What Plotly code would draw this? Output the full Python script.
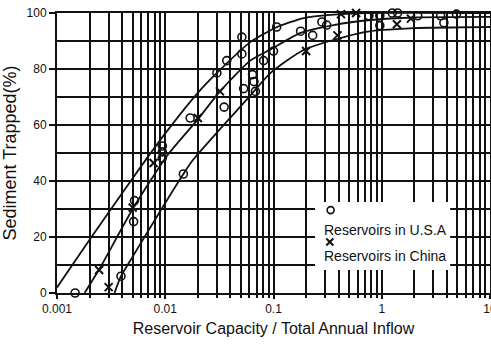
import plotly.graph_objects as go

# Reservoir capacity / annual inflow ratio and trap efficiency (%)
usa_x = [0.00147, 0.0039, 0.0051, 0.0052, 0.0094, 0.0094, 0.0094, 0.0147, 0.017,
         0.030, 0.035, 0.037, 0.051, 0.051, 0.053, 0.064, 0.066, 0.068, 0.081,
         0.100, 0.107, 0.178, 0.23, 0.28, 0.31, 0.76, 0.96, 0.96, 1.25, 1.4,
         2.15, 3.5, 3.75, 4.9]
usa_y = [0, 6, 25.5, 33, 52.5, 50.4, 48.2, 42.5, 62.5,
         78.6, 66.4, 83, 85.4, 91.4, 73, 78, 75.5, 72, 83,
         86.4, 95, 93.5, 92, 96.8, 95.7, 99, 99, 95.5, 100, 100,
         99, 99, 96.5, 99.6]

china_x = [0.00245, 0.0030, 0.005, 0.0078, 0.020, 0.032, 0.20, 0.39, 0.42, 0.58, 1.38, 1.86]
china_y = [8.2, 2.1, 30.5, 46.4, 62.5, 72, 86.4, 92, 99.6, 100, 96, 98]

# Envelope and median trap-efficiency curves
upper_x = [0.001, 0.002, 0.005, 0.01, 0.02, 0.03, 0.061, 0.108, 0.19, 0.42, 0.7, 10]
upper_y = [2, 19, 41, 57, 71.5, 78.6, 89.6, 95, 98.2, 99.6, 100, 100]

mid_x = [0.0018, 0.0025, 0.005, 0.0104, 0.02, 0.032, 0.061, 0.094, 0.178, 0.36, 0.79, 2, 10]
mid_y = [0, 9, 30, 49, 62, 72, 83, 87, 92.9, 95.7, 97.5, 98.4, 98.6]

low_x = [0.0034, 0.0039, 0.005, 0.0147, 0.018, 0.032, 0.061, 0.094, 0.19, 0.69, 2, 10]
low_y = [0, 6, 13, 42.5, 47.5, 58.5, 70.5, 78.6, 86.8, 93.2, 94.6, 95]

x_decades = [0.001, 0.01, 0.1, 1, 10]
x_decade_text = ["0.001", "0.01", "0.1", "1", "10"]
y_ticks = [0, 20, 40, 60, 80, 100]

legend_labels = ["Reservoirs in U.S.A", "Reservoirs in China"]

FONT = "Liberation Sans"
INK = "#111111"

x_minor = [k * d for d in x_decades[:-1] for k in range(2, 10)]

fig = go.Figure()

for cx, cy in [(upper_x, upper_y), (mid_x, mid_y), (low_x, low_y)]:
    fig.add_trace(go.Scatter(
        x=cx, y=cy, mode="lines", line=dict(color=INK, width=1.8, shape="spline", smoothing=0.6),
        showlegend=False, hoverinfo="skip"))

fig.add_trace(go.Scatter(
    x=usa_x, y=usa_y, mode="markers", name=legend_labels[0],
    marker=dict(symbol="circle-open", size=8, color=INK, line=dict(width=1.6, color=INK)),
    cliponaxis=False, showlegend=False))

fig.add_trace(go.Scatter(
    x=china_x, y=china_y, mode="markers", name=legend_labels[1],
    marker=dict(symbol="x-thin-open", size=8, color=INK, line=dict(width=2, color=INK)),
    cliponaxis=False, showlegend=False))

# In-plot legend: white panel and key symbols on a hidden unit overlay
box_x = [0.596, 0.908, 0.908, 0.596, 0.596]
box_y = [0.082, 0.082, 0.325, 0.325, 0.082]
fig.add_trace(go.Scatter(
    x=box_x, y=box_y, mode="lines", fill="toself", fillcolor="white",
    line=dict(width=0, color="white"), xaxis="x2", yaxis="y2",
    showlegend=False, hoverinfo="skip"))
fig.add_trace(go.Scatter(
    x=[0.632], y=[0.296], mode="markers", xaxis="x2", yaxis="y2",
    marker=dict(symbol="circle-open", size=7, color=INK, line=dict(width=1.6, color=INK)),
    showlegend=False, hoverinfo="skip"))
fig.add_trace(go.Scatter(
    x=[0.630], y=[0.182], mode="markers", xaxis="x2", yaxis="y2",
    marker=dict(symbol="x-thin-open", size=7, color=INK, line=dict(width=2, color=INK)),
    showlegend=False, hoverinfo="skip"))

for text, yy in zip(legend_labels, [0.225, 0.132]):
    fig.add_annotation(xref="paper", yref="paper", x=0.613, y=yy, text=text,
                       showarrow=False, xanchor="left", yanchor="middle",
                       font=dict(family=FONT, size=14, color=INK))

fig.update_layout(
    width=491, height=346,
    margin=dict(l=57, r=1, t=13, b=53),
    paper_bgcolor="white", plot_bgcolor="white",
    font=dict(family=FONT, color=INK),
    showlegend=False,
    xaxis=dict(
        type="log", range=[-3, 1],
        tickmode="array", tickvals=x_decades, ticktext=x_decade_text,
        ticks="outside", ticklen=4, tickwidth=2, tickcolor=INK,
        tickfont=dict(family=FONT, size=12, color=INK),
        ticklabeloverflow="allow",
        showgrid=True, gridcolor=INK, gridwidth=2,
        minor=dict(tickmode="array", tickvals=x_minor, showgrid=True,
                   gridcolor=INK, gridwidth=2, ticks="outside", ticklen=3,
                   tickwidth=2, tickcolor=INK),
        showline=True, linecolor=INK, linewidth=2, mirror=True,
        zeroline=False, automargin=False,
        title=dict(text="Reservoir Capacity / Total Annual Inflow",
                   font=dict(family=FONT, size=16, color=INK), standoff=7),
    ),
    yaxis=dict(
        range=[0, 100],
        tickmode="array", tickvals=y_ticks,
        ticks="outside", ticklen=6, tickwidth=2, tickcolor=INK,
        tickfont=dict(family=FONT, size=12, color=INK),
        showgrid=True, gridcolor=INK, gridwidth=2,
        minor=dict(dtick=10, tick0=0, showgrid=True, gridcolor=INK, gridwidth=2),
        showline=True, linecolor=INK, linewidth=2, mirror=True,
        zeroline=False, automargin=False,
        title=dict(text="Sediment Trapped(%)",
                   font=dict(family=FONT, size=18, color=INK), standoff=8),
    ),
    xaxis2=dict(overlaying="x", range=[0, 1], visible=False),
    yaxis2=dict(overlaying="y", range=[0, 1], visible=False),
)

fig.write_html("out.html")
